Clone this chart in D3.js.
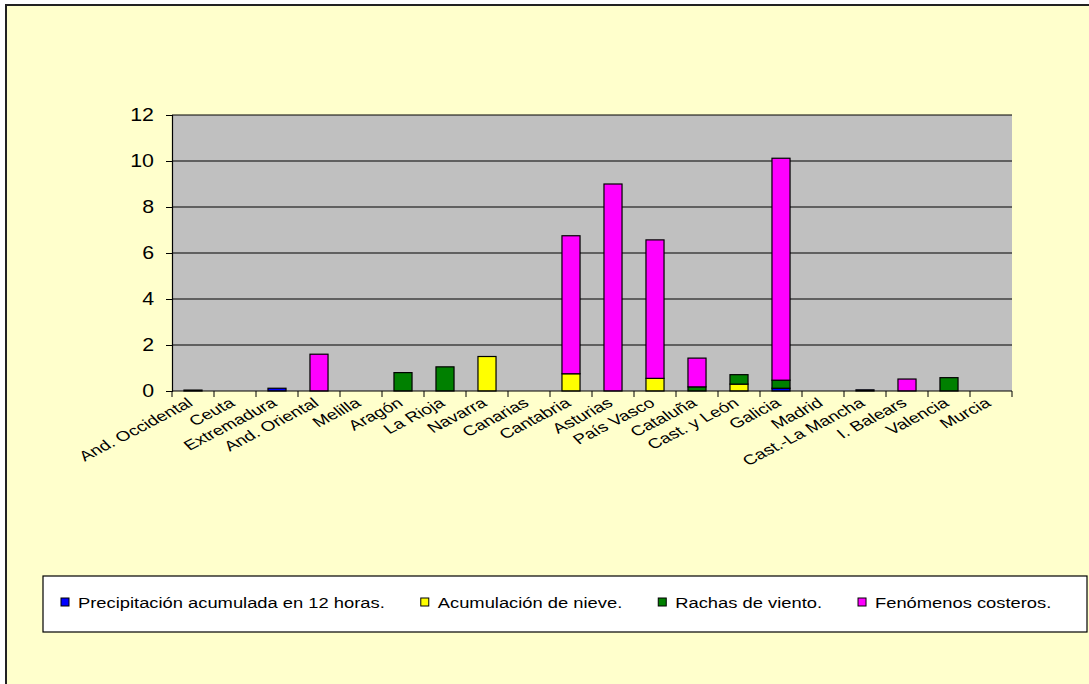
<!DOCTYPE html>
<html>
<head>
<meta charset="utf-8">
<script src="https://cdn.jsdelivr.net/npm/d3@7"></script>
<style>
  body { margin: 0; background: #fff; }
  svg { display: block; font-family: Arial, "Liberation Sans", sans-serif; }
</style>
</head>
<body>
<svg width="1089" height="684"></svg>
<script>
// regions on the x axis
var categories = ["And. Occidental", "Ceuta", "Extremadura", "And. Oriental", "Melilla", "Aragón",
  "La Rioja", "Navarra", "Canarias", "Cantabria", "Asturias", "País Vasco", "Cataluña",
  "Cast. y León", "Galicia", "Madrid", "Cast.-La Mancha", "I. Balears", "Valencia", "Murcia"];

// series values (stacked, bottom to top)
var precipitacion = [0.04, 0, 0.12, 0, 0, 0, 0, 0, 0, 0, 0, 0, 0, 0, 0.12, 0, 0.05, 0, 0, 0];
var nieve         = [0, 0, 0, 0, 0, 0, 0, 1.5, 0, 0.75, 0, 0.55, 0, 0.3, 0, 0, 0, 0, 0, 0];
var viento        = [0, 0, 0, 0, 0, 0.8, 1.05, 0, 0, 0, 0, 0, 0.18, 0.41, 0.35, 0, 0, 0, 0.58, 0];
var costeros      = [0, 0, 0, 1.6, 0, 0, 0, 0, 0, 6.0, 9.0, 6.02, 1.25, 0, 9.65, 0, 0, 0.52, 0, 0];

var seriesNames = ["Precipitación acumulada en 12 horas.", "Acumulación de nieve.",
  "Rachas de viento.", "Fenómenos costeros."];
var seriesColors = ["#0000FF", "#FFFF00", "#008000", "#FF00FF"];
var yTicks = [0, 2, 4, 6, 8, 10, 12];

var svg = d3.select("svg");
var wide = 1.22;   // text in the original looks horizontally stretched

// outer chart frame
svg.append("rect")
    .attr("x", 6).attr("y", 5)
    .attr("width", 1100).attr("height", 700)
    .attr("fill", "#FFFFCC")
    .attr("stroke", "#222")
    .attr("stroke-width", 2);

var plot = {left: 172, top: 115, right: 1012, bottom: 391};

var x = d3.scaleBand()
    .domain(categories)
    .range([plot.left, plot.right])
    .paddingInner(0.57)
    .paddingOuter(0.285);

var y = d3.scaleLinear().domain([0, 12]).range([plot.bottom, plot.top]);

// plot background
svg.append("rect")
    .attr("x", plot.left).attr("y", plot.top)
    .attr("width", plot.right - plot.left)
    .attr("height", plot.bottom - plot.top)
    .attr("fill", "#C0C0C0");

// gridlines
svg.append("g")
    .selectAll("line")
    .data(yTicks.filter(function(d) { return d > 0; }))
    .enter().append("line")
    .attr("x1", plot.left).attr("x2", plot.right)
    .attr("y1", function(d) { return y(d); })
    .attr("y2", function(d) { return y(d); })
    .attr("stroke", "#000")
    .attr("stroke-width", 1);

// stacked data
var table = categories.map(function(c, i) {
    return {cat: c, s0: precipitacion[i], s1: nieve[i], s2: viento[i], s3: costeros[i]};
});
var stack = d3.stack().keys(["s0", "s1", "s2", "s3"]);
var layers = stack(table);

svg.append("g")
    .selectAll("g")
    .data(layers)
    .enter().append("g")
    .attr("fill", function(d, i) { return seriesColors[i]; })
    .selectAll("rect")
    .data(function(d) { return d.filter(function(p) { return p[1] - p[0] > 0; }); })
    .enter().append("rect")
    .attr("x", function(d) { return x(d.data.cat); })
    .attr("width", x.bandwidth())
    .attr("y", function(d) { return y(d[1]); })
    .attr("height", function(d) { return y(d[0]) - y(d[1]); })
    .attr("stroke", "#000")
    .attr("stroke-width", 1.2);

// y axis
var yAxis = d3.axisLeft(y).tickValues(yTicks).tickSize(6).tickPadding(12);
var gy = svg.append("g")
    .attr("transform", "translate(" + plot.left + ",0)")
    .call(yAxis);
gy.select(".domain").attr("stroke", "#000").attr("stroke-width", 1.2);
gy.selectAll("line").attr("stroke", "#000");
gy.selectAll("text")
    .attr("font-size", 17.5)
    .attr("fill", "#000")
    .attr("font-family", "Arial, 'Liberation Sans', sans-serif")
    .attr("x", -18 / wide)
    .attr("transform", "scale(" + wide + ",1)");

// x axis: line + boundary ticks
var gx = svg.append("g");
gx.append("line")
    .attr("x1", plot.left).attr("x2", plot.right)
    .attr("y1", plot.bottom).attr("y2", plot.bottom)
    .attr("stroke", "#000").attr("stroke-width", 1.2);
var step = x.step();
gx.selectAll("line.tk")
    .data(d3.range(categories.length + 1))
    .enter().append("line")
    .attr("class", "tk")
    .attr("x1", function(i) { return plot.left + i * step; })
    .attr("x2", function(i) { return plot.left + i * step; })
    .attr("y1", plot.bottom).attr("y2", plot.bottom + 6)
    .attr("stroke", "#000");

gx.selectAll("text")
    .data(categories)
    .enter().append("text")
    .attr("transform", function(d) {
        return "translate(" + (x(d) + x.bandwidth() / 2 + 1) + "," + (plot.bottom + 14) +
            ") scale(1.35,1) rotate(-35)";
    })
    .attr("text-anchor", "end")
    .attr("font-size", 14)
    .attr("fill", "#000")
    .text(function(d) { return d; });

// legend
var legend = svg.append("g");
legend.append("rect")
    .attr("x", 43).attr("y", 576)
    .attr("width", 1044).attr("height", 56)
    .attr("fill", "#fff")
    .attr("stroke", "#000")
    .attr("stroke-width", 1.2);

var lx = 61;
seriesNames.forEach(function(name, i) {
    legend.append("rect")
        .attr("x", lx).attr("y", 598)
        .attr("width", 8).attr("height", 8)
        .attr("fill", seriesColors[i])
        .attr("stroke", "#000");
    var t = legend.append("text")
        .attr("transform", "translate(" + (lx + 17) + ",608) scale(" + 1.2 + ",1)")
        .attr("font-size", 15.3)
        .attr("fill", "#000")
        .text(name);
    lx += 17 + t.node().getComputedTextLength() * 1.2 + 36;
});
</script>
</body>
</html>
